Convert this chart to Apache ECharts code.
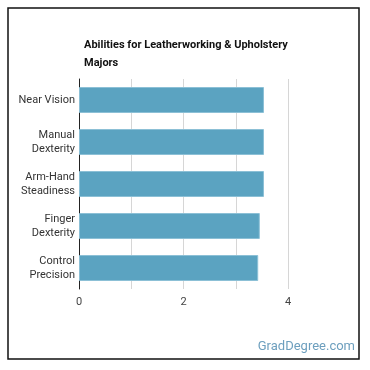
<!DOCTYPE html>
<html>
<head>
<meta charset="utf-8">
<script src="https://cdn.jsdelivr.net/npm/echarts@6/dist/echarts.min.js"></script>
<style>
  html, body { margin: 0; padding: 0; background: #fff; }
  #chart { width: 370px; height: 370px; }
</style>
</head>
<body>
<div id="chart"></div>
<script>
const categories = ['Near Vision', 'Manual\nDexterity', 'Arm-Hand\nSteadiness', 'Finger\nDexterity', 'Control\nPrecision']
const values = [3.54, 3.54, 3.54, 3.46, 3.43]
const tickLabels = ['0', '2', '4']

const myChart = echarts.init(document.getElementById('chart'))

const option = {
  animation: false,
  title: {
    text: 'Abilities for Leatherworking & Upholstery\nMajors',
    left: 79,
    top: 31,
    textStyle: {
      fontFamily: 'Roboto',
      fontSize: 11,
      fontWeight: 'bold',
      color: '#111',
      lineHeight: 18
    }
  },
  grid: {
    left: 79,
    right: 82,
    top: 79,
    bottom: 81
  },
  xAxis: {
    type: 'value',
    min: 0,
    max: 4,
    interval: 1,
    axisLine: { show: false },
    axisTick: { show: false },
    axisLabel: {
      margin: 8,
      color: '#444',
      fontFamily: 'Roboto',
      fontSize: 11,
      formatter: function (v) {
        return tickLabels.indexOf(String(v)) >= 0 ? String(v) : ''
      }
    },
    splitLine: {
      lineStyle: { color: '#d6d6d6', width: 1 }
    }
  },
  yAxis: {
    type: 'category',
    inverse: true,
    data: categories,
    axisLine: {
      lineStyle: { color: '#222', width: 1 }
    },
    axisTick: { show: false },
    axisLabel: {
      margin: 4,
      color: '#333',
      fontFamily: 'Roboto',
      fontSize: 11,
      lineHeight: 14
    }
  },
  series: [
    {
      type: 'bar',
      data: values,
      barWidth: 26,
      itemStyle: {
        color: '#5ba3c1',
        borderColor: '#8cc0d6',
        borderWidth: 1
      }
    }
  ],
  graphic: [
    {
      type: 'rect',
      shape: { x: 8, y: 8, width: 351, height: 351 },
      style: { fill: 'none', stroke: '#111', lineWidth: 1.5 },
      silent: true
    },
    {
      type: 'text',
      right: 15,
      top: 340,
      style: {
        text: 'GradDegree.com',
        fill: '#6d9fbe',
        font: '13px Roboto'
      }
    }
  ]
}

myChart.setOption(option)
</script>
</body>
</html>
